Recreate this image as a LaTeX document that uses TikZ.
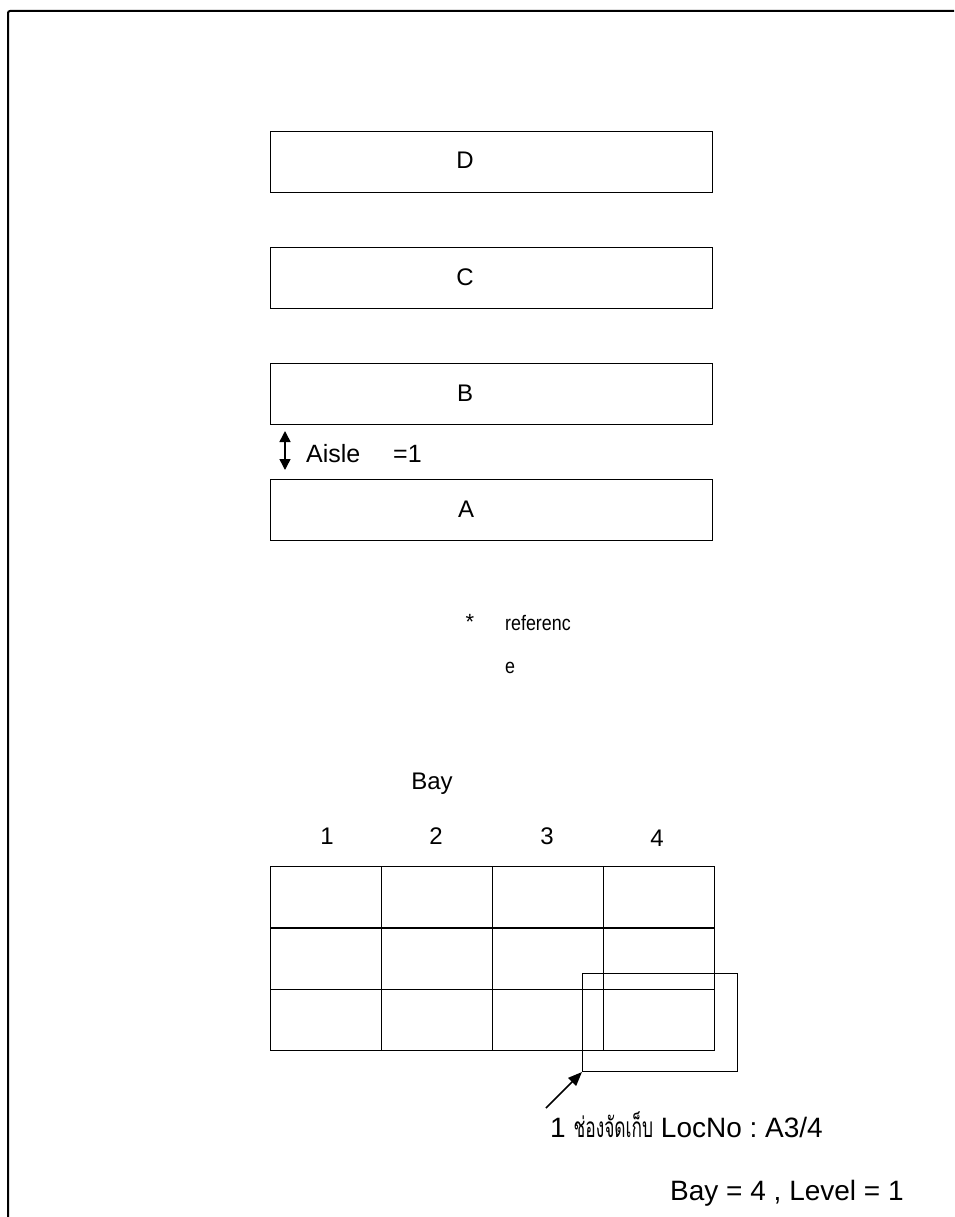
\documentclass[tikz,border=0pt]{standalone}
\usepackage{fontspec}
\setmainfont{Liberation Sans}
\newfontfamily\thaifont[Script=Thai]{Loma}
\usetikzlibrary{arrows.meta}
\frenchspacing
\begin{document}
\begin{tikzpicture}[x=1pt,y=-1pt,
  rack/.style={draw, line width=1.4pt, minimum width=442pt, minimum height=61pt, inner sep=0pt, anchor=north west},
  cell/.style={draw, line width=1.4pt, minimum width=111pt, minimum height=61.3pt, inner sep=0pt, anchor=north west},
  lbl/.style={font=\fontsize{24}{28}\selectfont, inner sep=0pt, anchor=base},
  txt/.style={font=\fontsize{24}{28}\selectfont, inner sep=0pt, anchor=base},
  big/.style={font=\fontsize{28}{32}\selectfont, inner sep=0pt, anchor=base west},
  tip/.style={-{Triangle[length=14pt,width=11pt]}, line width=1.6pt}
]
\useasboundingbox (0,0) rectangle (954,1217);
% frame
\draw[line width=2pt, rounded corners=2pt] (8,1217) -- (8,11) -- (954,11);
% racks
\node[rack] (rD) at (270,131) {};
\node[rack] (rC) at (270,247) {};
\node[rack] (rB) at (270,363) {};
\node[rack] (rA) at (270,479) {};
\node[lbl] (tD) at (465,169) {D};
\node[lbl] (tC) at (465,285) {C};
\node[lbl] (tB) at (465,401) {B};
\node[lbl] (tA) at (466,517) {A};
% aisle
\coordinate (a1) at (285,431);
\coordinate (a2) at (285,470);
\draw[{Triangle[length=11pt,width=11pt]}-{Triangle[length=11pt,width=11pt]}, line width=1.5pt] (a1) -- (a2);
\node[font=\fontsize{25}{30}\selectfont, inner sep=0pt, anchor=base west] (aisle) at (306,462) {Aisle};
\node[font=\fontsize{25}{30}\selectfont, inner sep=0pt, anchor=base west] (eq) at (393,462) {=1};
% reference note
\node[font=\fontsize{22}{26}\selectfont, inner sep=0pt] (star) at (470,622) {*};
\node[font=\fontsize{21}{26}\selectfont, inner sep=0pt, anchor=base west] (ref) at (505,630) {\scalebox{0.85}[1]{referenc}};
\node[font=\fontsize{21}{26}\selectfont, inner sep=0pt, anchor=base west] (refe) at (505,673) {\scalebox{0.85}[1]{e}};
% bay header
\node[txt] (bay) at (432,789) {Bay};
\node[txt] (n1) at (327,844) {1};
\node[txt] (n2) at (436,844) {2};
\node[txt] (n3) at (547,844) {3};
\node[txt] (n4) at (657,846) {4};
% grid
\foreach \c/\x in {1/270,2/381,3/491.5,4/602.5}{
  \foreach \r/\y in {1/866,2/927.3,3/988.6}{
    \node[cell] (c\r\c) at (\x,\y) {};
  }
}
% highlight
\node[draw, line width=1pt, minimum width=155pt, minimum height=98pt, inner sep=0pt, anchor=north west] (hl) at (582,973) {};
\coordinate (tail) at (546,1108);
\draw[tip] (tail) -- (hl.south west);
% bottom texts
\node[big] (loc) at (550,1137) {1 \scalebox{0.62}[1]{\thaifont ช่องจัดเก็บ} LocNo : A3/4};
\node[big] (lev) at (670,1200) {Bay = 4 , Level = 1};
\end{tikzpicture}
\end{document}
